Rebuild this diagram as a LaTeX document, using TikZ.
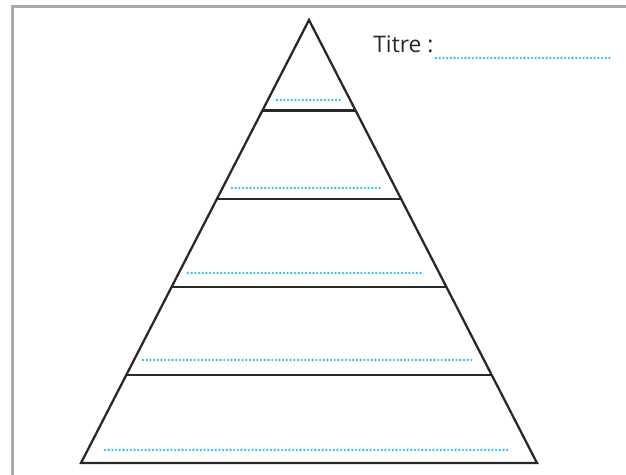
\documentclass[tikz,border=0pt]{standalone}
\usepackage{fontspec}
\setmainfont{Open Sans}
\usetikzlibrary{calc}
\definecolor{frame_gray}{RGB}{170,170,170}
\definecolor{line_black}{RGB}{40,40,40}
\definecolor{dot_blue}{RGB}{55,190,240}

\begin{document}
\begin{tikzpicture}[x=0.02cm,y=-0.02cm,
	level/.style={draw=line_black,line width=1.3pt},
	dots/.style={draw=dot_blue,line width=1.5pt,line cap=round,dash pattern=on 0pt off 2.1pt}]
	\useasboundingbox (0,0) rectangle (626,475);
	\clip (0,0) rectangle (626,475);
	\draw[frame_gray,line width=1.2pt] (12.5,480) |- (630,6.5);

	\coordinate (apex) at (309,20);
	\coordinate (bl) at (81,463);
	\coordinate (br) at (537,463);
	\draw[level,line join=miter] (apex) -- (bl) -- (br) -- cycle;

	\foreach \t in {110.5,199,287,375}
		\draw[level] ($(apex)!{(\t-20)/443}!(bl)$) -- ($(apex)!{(\t-20)/443}!(br)$);

	\foreach \y/\a/\b in {100/277/342,188/232/381,273/188/424,360/143/472,450/105/510}
		\draw[dots] (\a,\y) -- (\b,\y);

	\node[anchor=base west,inner sep=0pt,font=\fontsize{13pt}{15pt}\selectfont,text=line_black] (titre) at (373,53) {Titre :};
	\draw[dots] (436,58) -- (610,58);
\end{tikzpicture}
\end{document}
